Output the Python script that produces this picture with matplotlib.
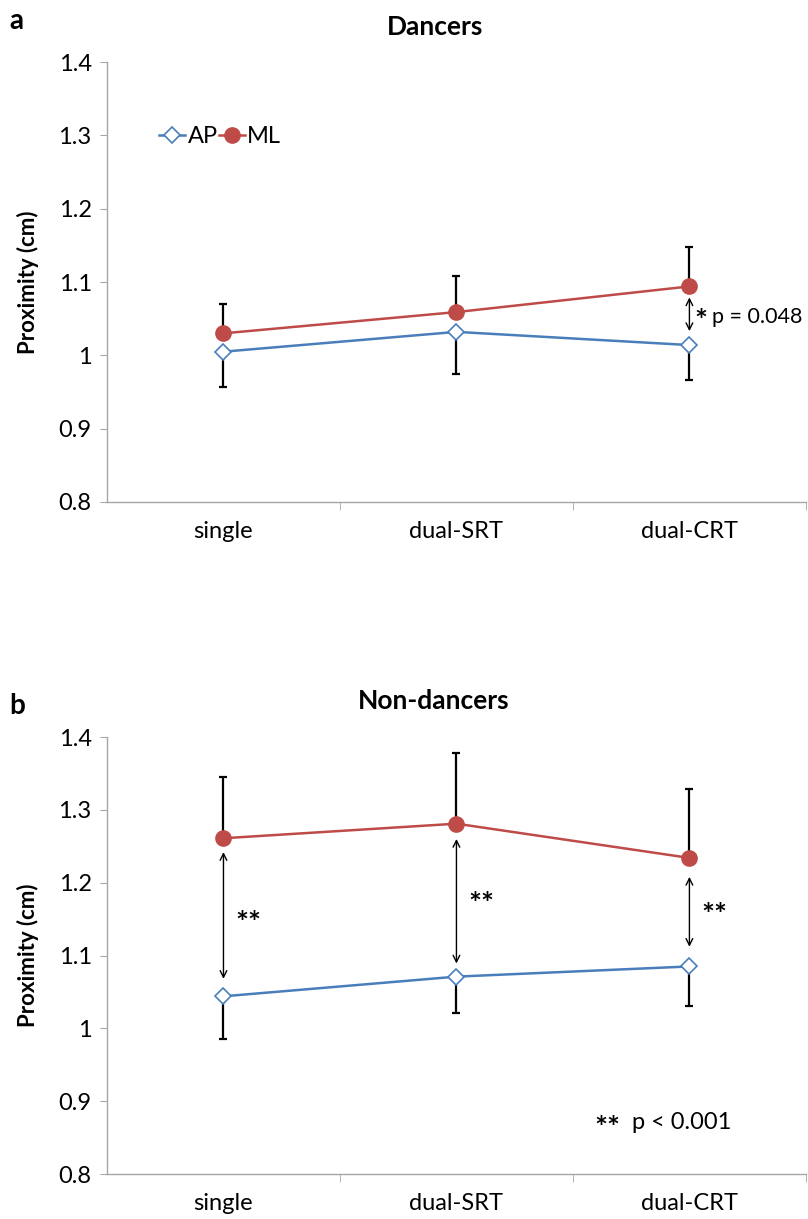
import matplotlib
matplotlib.use("Agg")
import matplotlib.pyplot as plt
import numpy as np

plt.rcParams['font.family'] = ['Lato', 'DejaVu Sans']

categories = ["single", "dual-SRT", "dual-CRT"]

# Panel a: Dancers
dancers_ap = [1.005, 1.032, 1.014]
dancers_ap_err = [0.048, 0.057, 0.047]
dancers_ml = [1.030, 1.059, 1.094]
dancers_ml_err = [0.040, 0.049, 0.054]

# Panel b: Non-dancers
non_ap = [1.044, 1.071, 1.085]
non_ap_err = [0.059, 0.050, 0.054]
non_ml = [1.261, 1.281, 1.234]
non_ml_err = [0.084, 0.097, 0.095]

yticks = [0.8, 0.9, 1.0, 1.1, 1.2, 1.3, 1.4]
ytick_labels = ["0.8", "0.9", "1", "1.1", "1.2", "1.3", "1.4"]

BLUE = "#4a7ebb"
RED = "#be4b48"
GRAY = "#a6a6a6"
FS = 17

fig = plt.figure(figsize=(8.08, 12.19), dpi=100)
ax_a = fig.add_axes([0.1324, 0.5882, 0.865, 0.3609])
ax_b = fig.add_axes([0.1324, 0.0369, 0.865, 0.3585])

def draw(ax, ap, ap_err, ml, ml_err):
    x = np.arange(len(categories))
    zeros = [0] * len(categories)
    ax.errorbar(x, ap, yerr=[ap_err, zeros], color="black", lw=1.6, capsize=3,
                capthick=1.6, fmt="none", zorder=2)
    ax.errorbar(x, ml, yerr=[zeros, ml_err], color="black", lw=1.6, capsize=3,
                capthick=1.6, fmt="none", zorder=2)
    ax.plot(x, ap, color=BLUE, lw=1.8, marker="D", markersize=8, markerfacecolor="white",
            markeredgecolor=BLUE, markeredgewidth=1.2, label="AP", zorder=3)
    ax.plot(x, ml, color=RED, lw=1.8, marker="o", markersize=11, markerfacecolor=RED,
            markeredgecolor=RED, label="ML", zorder=3)
    ax.set_xlim(-0.5, 2.5)
    ax.set_ylim(0.8, 1.4)
    ax.set_yticks(yticks)
    ax.set_yticklabels(ytick_labels, fontsize=FS)
    ax.set_xticks(x)
    ax.set_xticklabels(categories, fontsize=FS)
    ax.set_xticks([0.5, 1.5, 2.5], minor=True)
    ax.tick_params(axis="x", which="major", length=0, pad=14)
    ax.tick_params(axis="x", which="minor", length=6, color=GRAY, direction="out")
    ax.tick_params(axis="y", length=5, color=GRAY, direction="out", pad=6)
    for s in ["top", "right"]:
        ax.spines[s].set_visible(False)
    for s in ["left", "bottom"]:
        ax.spines[s].set_color(GRAY)
        ax.spines[s].set_linewidth(1.0)
    ax.set_ylabel("Proximity (cm)", fontsize=16, fontweight="bold", labelpad=14)

def arrow(ax, xpos, y0, y1):
    ax.annotate("", xy=(xpos, y1), xytext=(xpos, y0),
                arrowprops=dict(arrowstyle="<->", color="black", lw=1.0,
                                shrinkA=0, shrinkB=0, mutation_scale=12))

draw(ax_a, dancers_ap, dancers_ap_err, dancers_ml, dancers_ml_err)
draw(ax_b, non_ap, non_ap_err, non_ml, non_ml_err)

fig.text(0.538, 0.978, "Dancers", fontsize=19, fontweight="bold", ha="center", va="center")
fig.text(0.537, 0.425, "Non-dancers", fontsize=19, fontweight="bold", ha="center", va="center")

leg = ax_a.legend(loc="center left", bbox_to_anchor=(0.075, 0.83), ncol=2, frameon=False,
                  fontsize=FS, handlelength=1.1, handletextpad=0.1, columnspacing=0.05,
                  borderpad=0, borderaxespad=0)

STAR = 22
arrow(ax_a, 2, 1.079, 1.033)
ax_a.text(2.02, 1.045, "*", fontsize=STAR, fontweight="bold", ha="left", va="center")
ax_a.text(2.095, 1.052, "p = 0.048", fontsize=15.5, ha="left", va="center")

arrow(ax_b, 0, 1.242, 1.068)
arrow(ax_b, 1, 1.260, 1.089)
arrow(ax_b, 2, 1.208, 1.112)
ax_b.text(0.05, 1.143, "**", fontsize=STAR, fontweight="bold", ha="left", va="center")
ax_b.text(1.05, 1.170, "**", fontsize=STAR, fontweight="bold", ha="left", va="center")
ax_b.text(2.05, 1.154, "**", fontsize=STAR, fontweight="bold", ha="left", va="center")
ax_b.text(1.594, 0.862, "**", fontsize=STAR, fontweight="bold", ha="left", va="center")
ax_b.text(1.753, 0.871, "p < 0.001", fontsize=FS, ha="left", va="center")

fig.text(0.012, 0.983, "a", fontsize=20, fontweight="bold", ha="left", va="center")
fig.text(0.012, 0.421, "b", fontsize=20, fontweight="bold", ha="left", va="center")

fig.savefig("out.png", dpi=100)
